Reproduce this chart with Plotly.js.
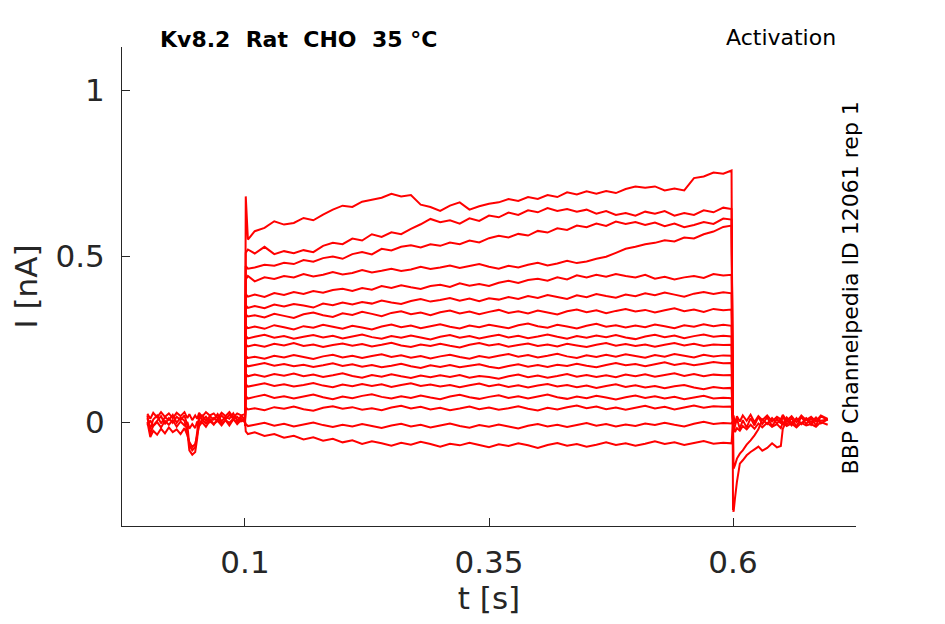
<!DOCTYPE html>
<html>
<head>
<meta charset="utf-8">
<script src="https://cdn.plot.ly/plotly-3.0.1.min.js"></script>
<style>
  html, body { margin: 0; padding: 0; background: #fff; }
  #chart { width: 945px; height: 624px; }
</style>
</head>
<body>
<div id="chart"></div>
<script>
const RED = "rgb(255,0,0)";
const WIDTH = 2;
const AXIS = "rgb(38,38,38)";

// holding potential before the step (t in s, I in nA)
const preT = [0.0, 0.003, 0.006, 0.01, 0.014, 0.018, 0.022, 0.026, 0.03, 0.034, 0.038, 0.041, 0.043, 0.046, 0.049,
  0.051, 0.053, 0.056, 0.06, 0.064, 0.068, 0.072, 0.076, 0.08, 0.084, 0.088, 0.092, 0.096, 0.1];
const pre1 = [0.012, -0.02, 0.008, 0.02, -0.004, 0.015, 0.006, 0.022, -0.002, 0.014, 0.004, -0.03, -0.085, -0.098, -0.09,
  -0.05, 0.01, 0.02, 0.004, 0.018, 0.008, 0.024, 0.002, 0.016, 0.01, 0.026, 0.004, 0.018, 0.01];
const pre2 = [0.02, -0.035, -0.01, 0.004, 0.018, -0.006, 0.012, -0.002, 0.016, 0.006, 0.02, -0.01, -0.07, -0.085, -0.075,
  -0.03, 0.022, 0.006, 0.016, 0.0, 0.012, 0.004, 0.02, 0.008, 0.022, 0.01, 0.016, 0.002, 0.012];
const pre3 = [0.0, -0.045, -0.026, -0.038, -0.02, -0.034, -0.016, -0.03, -0.022, -0.036, -0.018, -0.04, -0.06, -0.075, -0.066,
  -0.04, -0.012, 0.0, -0.014, 0.004, -0.008, 0.01, -0.004, 0.006, -0.01, 0.008, -0.002, 0.012, 0.002];
const pre4 = [0.025, 0.01, 0.028, 0.014, 0.03, 0.016, 0.026, 0.012, 0.028, 0.018, 0.03, 0.012, 0.024, 0.006, 0.02,
  0.01, 0.028, 0.016, 0.03, 0.02, 0.026, 0.012, 0.028, 0.018, 0.03, 0.014, 0.026, 0.02, 0.024];
const pre5 = [-0.01, 0.005, -0.012, 0.0, -0.016, 0.004, -0.008, 0.006, -0.014, 0.002, -0.01, 0.0, -0.02, -0.006, -0.018,
  0.002, -0.008, 0.008, -0.004, 0.01, -0.006, 0.004, -0.01, 0.006, -0.002, 0.01, -0.006, 0.006, 0.0];

// voltage step, one array per sweep
const stepT = [0.1, 0.1008, 0.103,
  0.11, 0.12, 0.13, 0.14, 0.15, 0.16, 0.17, 0.18, 0.19, 0.2,
  0.21, 0.22, 0.23, 0.24, 0.25, 0.26, 0.27, 0.28, 0.29, 0.3,
  0.31, 0.32, 0.33, 0.34, 0.35, 0.36, 0.37, 0.38, 0.39, 0.4,
  0.41, 0.42, 0.43, 0.44, 0.45, 0.46, 0.47, 0.48, 0.49, 0.5,
  0.51, 0.52, 0.53, 0.54, 0.55, 0.56, 0.57, 0.58, 0.59,
  0.5985, 0.6];
const sweep01 = [0.0, 0.68, 0.55,
  0.575, 0.585, 0.605, 0.595, 0.6, 0.615, 0.608, 0.625, 0.64, 0.652,
  0.648, 0.664, 0.67, 0.676, 0.688, 0.68, 0.684, 0.655, 0.648, 0.636,
  0.652, 0.662, 0.64, 0.65, 0.658, 0.662, 0.672, 0.666, 0.678, 0.672,
  0.684, 0.678, 0.692, 0.686, 0.695, 0.688, 0.696, 0.69, 0.702, 0.71,
  0.706, 0.71, 0.698, 0.704, 0.698, 0.735, 0.74, 0.752, 0.748,
  0.758, -0.265];
const sweep02 = [0.008, 0.51, 0.52,
  0.508, 0.528, 0.506, 0.515, 0.509, 0.518, 0.512, 0.531, 0.54, 0.536,
  0.553, 0.547, 0.566, 0.558, 0.572, 0.566, 0.582, 0.596, 0.612, 0.602,
  0.608, 0.598, 0.614, 0.606, 0.622, 0.617, 0.631, 0.624, 0.638, 0.632,
  0.645, 0.636, 0.642, 0.634, 0.64, 0.628, 0.636, 0.624, 0.63, 0.622,
  0.634, 0.628, 0.636, 0.622, 0.63, 0.624, 0.638, 0.632, 0.646,
  0.642, 0.01];
const sweep03 = [0.005, 0.47, 0.462,
  0.466, 0.474, 0.471, 0.48, 0.476, 0.488, 0.483, 0.494, 0.499, 0.492,
  0.506, 0.512, 0.505, 0.522, 0.517, 0.528, 0.533, 0.526, 0.536, 0.531,
  0.541, 0.536, 0.547, 0.541, 0.554, 0.561, 0.556, 0.567, 0.562, 0.576,
  0.571, 0.584, 0.579, 0.592, 0.587, 0.598, 0.591, 0.604, 0.597, 0.603,
  0.594, 0.601, 0.59, 0.598, 0.587, 0.594, 0.603, 0.597, 0.613,
  0.61, 0.0];
const sweep04 = [0.002, 0.43, 0.44,
  0.424, 0.436, 0.431, 0.44, 0.436, 0.446, 0.439, 0.444, 0.452, 0.445,
  0.449, 0.458, 0.451, 0.456, 0.462, 0.455, 0.46, 0.468, 0.461, 0.466,
  0.472, 0.464, 0.47, 0.476, 0.468, 0.462, 0.471, 0.466, 0.474, 0.48,
  0.472, 0.478, 0.486, 0.479, 0.484, 0.492, 0.498, 0.51, 0.522, 0.528,
  0.536, 0.54, 0.548, 0.544, 0.556, 0.553, 0.566, 0.574, 0.588,
  0.592, 0.004];
const sweep05 = [-0.004, 0.385, 0.378,
  0.384, 0.377, 0.389, 0.383, 0.392, 0.386, 0.395, 0.39, 0.398, 0.402,
  0.395, 0.404, 0.399, 0.41, 0.404, 0.412, 0.406, 0.401, 0.41, 0.414,
  0.407, 0.418, 0.411, 0.416, 0.41, 0.42, 0.426, 0.419, 0.428, 0.432,
  0.426, 0.436, 0.43, 0.442, 0.436, 0.444, 0.438, 0.446, 0.44, 0.436,
  0.444, 0.432, 0.438, 0.43, 0.436, 0.44, 0.434, 0.446, 0.442,
  0.444, -0.002];
const sweep06 = [0.01, 0.352, 0.344,
  0.35, 0.343, 0.354, 0.348, 0.356, 0.351, 0.345, 0.357, 0.352, 0.36,
  0.354, 0.362, 0.357, 0.366, 0.36, 0.356, 0.365, 0.371, 0.363, 0.368,
  0.374, 0.366, 0.372, 0.364, 0.373, 0.369, 0.377, 0.371, 0.38, 0.374,
  0.383, 0.377, 0.371, 0.382, 0.376, 0.386, 0.38, 0.375, 0.384, 0.379,
  0.388, 0.382, 0.39, 0.384, 0.378, 0.387, 0.392, 0.386, 0.391,
  0.388, 0.006];
const sweep07 = [-0.006, 0.324, 0.318,
  0.322, 0.315, 0.326, 0.32, 0.314, 0.325, 0.33, 0.322, 0.317, 0.328,
  0.323, 0.332, 0.326, 0.319, 0.329, 0.334, 0.325, 0.33, 0.322, 0.331,
  0.336, 0.327, 0.333, 0.325, 0.332, 0.338, 0.329, 0.334, 0.327, 0.336,
  0.33, 0.324, 0.334, 0.339, 0.331, 0.337, 0.328, 0.335, 0.341, 0.333,
  0.338, 0.33, 0.337, 0.343, 0.334, 0.339, 0.332, 0.341, 0.337,
  0.339, -0.004];
const sweep08 = [0.012, 0.29, 0.283,
  0.288, 0.281, 0.292, 0.286, 0.279, 0.289, 0.284, 0.293, 0.287, 0.281,
  0.29, 0.285, 0.279, 0.288, 0.294, 0.286, 0.291, 0.283, 0.289, 0.295,
  0.287, 0.282, 0.291, 0.286, 0.293, 0.288, 0.283, 0.292, 0.297, 0.289,
  0.284, 0.293, 0.288, 0.282, 0.29, 0.296, 0.287, 0.292, 0.285, 0.291,
  0.286, 0.294, 0.289, 0.283, 0.292, 0.287, 0.295, 0.289, 0.293,
  0.29, 0.008];
const sweep09 = [-0.01, 0.26, 0.252,
  0.257, 0.263, 0.254, 0.259, 0.251, 0.257, 0.262, 0.255, 0.26, 0.252,
  0.258, 0.264, 0.256, 0.251, 0.259, 0.254, 0.261, 0.255, 0.249, 0.257,
  0.262, 0.254, 0.259, 0.252, 0.258, 0.263, 0.255, 0.26, 0.253, 0.258,
  0.264, 0.257, 0.251, 0.259, 0.254, 0.261, 0.256, 0.262, 0.255, 0.25,
  0.258, 0.263, 0.256, 0.261, 0.253, 0.259, 0.264, 0.257, 0.26,
  0.258, -0.006];
const sweep10 = [0.004, 0.234, 0.228,
  0.233, 0.227, 0.236, 0.231, 0.238, 0.229, 0.234, 0.226, 0.232, 0.237,
  0.23, 0.235, 0.228, 0.233, 0.239, 0.231, 0.226, 0.234, 0.229, 0.236,
  0.23, 0.225, 0.233, 0.238, 0.231, 0.235, 0.227, 0.232, 0.237, 0.229,
  0.234, 0.228, 0.236, 0.231, 0.226, 0.233, 0.238, 0.23, 0.235, 0.229,
  0.234, 0.227, 0.233, 0.238, 0.231, 0.236, 0.229, 0.234, 0.232,
  0.233, 0.002];
const sweep11 = [-0.008, 0.2, 0.193,
  0.197, 0.191, 0.2, 0.195, 0.202, 0.196, 0.19, 0.198, 0.203, 0.195,
  0.2, 0.193, 0.199, 0.204, 0.196, 0.201, 0.194, 0.199, 0.192, 0.198,
  0.203, 0.196, 0.191, 0.199, 0.194, 0.2, 0.205, 0.197, 0.202, 0.195,
  0.2, 0.206, 0.198, 0.193, 0.201, 0.196, 0.203, 0.197, 0.204, 0.199,
  0.194, 0.202, 0.197, 0.205, 0.2, 0.195, 0.203, 0.198, 0.201,
  0.2, -0.004];
const sweep12 = [0.014, 0.174, 0.168,
  0.172, 0.178, 0.17, 0.175, 0.168, 0.173, 0.166, 0.171, 0.177, 0.169,
  0.174, 0.167, 0.172, 0.165, 0.17, 0.176, 0.168, 0.163, 0.171, 0.166,
  0.172, 0.165, 0.17, 0.174, 0.167, 0.162, 0.169, 0.174, 0.167, 0.172,
  0.166, 0.173, 0.169, 0.176, 0.17, 0.165, 0.172, 0.178, 0.171, 0.175,
  0.168, 0.174, 0.18, 0.172, 0.177, 0.171, 0.176, 0.181, 0.177,
  0.178, 0.01];
const sweep13 = [-0.002, 0.145, 0.138,
  0.143, 0.137, 0.145, 0.14, 0.146, 0.138, 0.143, 0.136, 0.141, 0.147,
  0.139, 0.134, 0.142, 0.137, 0.144, 0.138, 0.133, 0.14, 0.135, 0.141,
  0.136, 0.142, 0.134, 0.139, 0.136, 0.131, 0.138, 0.143, 0.135, 0.14,
  0.134, 0.139, 0.145, 0.137, 0.142, 0.136, 0.141, 0.135, 0.143, 0.138,
  0.144, 0.137, 0.142, 0.147, 0.139, 0.145, 0.138, 0.143, 0.141,
  0.142, -0.008];
const sweep14 = [0.006, 0.114, 0.107,
  0.111, 0.117, 0.109, 0.114, 0.107, 0.112, 0.118, 0.11, 0.105, 0.113,
  0.108, 0.115, 0.109, 0.114, 0.106, 0.112, 0.117, 0.109, 0.113, 0.107,
  0.112, 0.105, 0.111, 0.116, 0.108, 0.113, 0.106, 0.111, 0.104, 0.11,
  0.115, 0.107, 0.112, 0.105, 0.11, 0.103, 0.109, 0.114, 0.106, 0.111,
  0.104, 0.109, 0.102, 0.108, 0.112, 0.104, 0.099, 0.106, 0.102,
  0.103, 0.004];
const sweep15 = [-0.012, 0.078, 0.071,
  0.076, 0.082, 0.073, 0.078, 0.071, 0.077, 0.083, 0.075, 0.069, 0.077,
  0.072, 0.079, 0.084, 0.076, 0.071, 0.078, 0.073, 0.08, 0.074, 0.069,
  0.077, 0.082, 0.075, 0.07, 0.076, 0.081, 0.073, 0.078, 0.071, 0.077,
  0.083, 0.075, 0.07, 0.077, 0.072, 0.079, 0.074, 0.068, 0.075, 0.08,
  0.073, 0.078, 0.071, 0.076, 0.069, 0.074, 0.079, 0.071, 0.073,
  0.072, -0.006];
const sweep16 = [0.008, 0.044, 0.038,
  0.042, 0.036, 0.045, 0.04, 0.047, 0.039, 0.034, 0.043, 0.048, 0.04,
  0.045, 0.037, 0.042, 0.036, 0.044, 0.049, 0.041, 0.046, 0.038, 0.043,
  0.036, 0.041, 0.047, 0.039, 0.044, 0.037, 0.042, 0.048, 0.04, 0.035,
  0.043, 0.038, 0.045, 0.05, 0.042, 0.047, 0.039, 0.044, 0.037, 0.043,
  0.049, 0.041, 0.046, 0.038, 0.044, 0.05, 0.043, 0.048, 0.046,
  0.047, 0.002];
const sweep17 = [0.0, -0.006, -0.012,
  -0.008, -0.002, -0.011, -0.005, -0.013, -0.007, -0.001, -0.009, -0.015, -0.008,
  -0.013, -0.006, -0.012, -0.018, -0.01, -0.005, -0.013, -0.008, -0.016, -0.01,
  -0.004, -0.012, -0.017, -0.009, -0.014, -0.007, -0.013, -0.019, -0.011, -0.006,
  -0.013, -0.008, -0.015, -0.009, -0.003, -0.011, -0.006, -0.013, -0.007, -0.012,
  -0.004, -0.009, -0.002, -0.008, -0.013, -0.005, 0.001, -0.006, -0.003,
  -0.004, 0.004];
const sweep18 = [0.004, -0.028, -0.036,
  -0.031, -0.042, -0.036, -0.047, -0.041, -0.052, -0.046, -0.056, -0.05, -0.061,
  -0.055, -0.066, -0.058, -0.064, -0.071, -0.062, -0.068, -0.059, -0.066, -0.074,
  -0.065, -0.07, -0.062, -0.069, -0.076, -0.067, -0.072, -0.064, -0.07, -0.078,
  -0.069, -0.063, -0.071, -0.066, -0.074, -0.068, -0.061, -0.069, -0.064, -0.071,
  -0.065, -0.058, -0.066, -0.061, -0.069, -0.063, -0.057, -0.065, -0.062,
  -0.064, -0.002];

// tail currents after the step
const postT = [0.6, 0.6006, 0.602, 0.604, 0.607, 0.61, 0.614, 0.618, 0.622, 0.626, 0.63, 0.635, 0.64,
  0.645, 0.649, 0.651, 0.655, 0.66, 0.665, 0.67, 0.675, 0.68, 0.685, 0.69, 0.697];
const post1 = [-0.265, -0.27, -0.23, -0.18, -0.125, -0.115, -0.1, -0.09, -0.082, -0.074, -0.086, -0.078, -0.064,
  -0.076, -0.072, -0.02, 0.006, -0.01, 0.012, -0.006, 0.01, -0.008, 0.012, 0.004, 0.008];
const post2 = [0.0, -0.14, -0.13, -0.11, -0.095, -0.085, -0.068, -0.055, -0.04, -0.022, 0.008, -0.006, 0.012,
  -0.004, 0.01, -0.008, 0.014, -0.002, 0.01, -0.006, 0.012, 0.0, 0.014, -0.004, 0.008];
const post3 = [0.0, -0.03, -0.012, 0.01, -0.02, 0.006, -0.016, 0.012, -0.01, 0.016, -0.006, 0.014, -0.012,
  0.01, -0.004, 0.018, -0.008, 0.012, -0.014, 0.016, -0.006, 0.012, -0.01, 0.018, 0.006];
const post4 = [0.0, 0.02, -0.006, 0.018, 0.002, 0.02, 0.004, 0.022, 0.0, 0.018, 0.006, 0.02, 0.002,
  0.016, 0.008, 0.022, 0.004, 0.018, 0.0, 0.02, 0.006, 0.016, 0.002, 0.02, 0.01];
const post5 = [0.0, -0.01, -0.03, -0.018, -0.026, -0.012, -0.022, -0.008, -0.02, -0.004, -0.016, -0.002, -0.014,
  -0.006, -0.018, 0.0, -0.012, -0.004, -0.016, -0.002, -0.01, -0.006, -0.014, 0.0, -0.008];

const preSweeps = [pre1, pre2, pre3, pre4, pre5];
const stepSweeps = [sweep01, sweep02, sweep03, sweep04, sweep05, sweep06, sweep07, sweep08, sweep09,
  sweep10, sweep11, sweep12, sweep13, sweep14, sweep15, sweep16, sweep17, sweep18];
const postSweeps = [post1, post2, post3, post4, post5];

const xTicks = [0.1, 0.35, 0.6];
const xTickText = ["0.1", "0.35", "0.6"];
const yTicks = [0, 0.5, 1];
const yTickText = ["0", "0.5", "1"];

function line(x, y) {
	return {
		type: "scatter",
		mode: "lines",
		x: x,
		y: y,
		line: { color: RED, width: WIDTH, simplify: false },
		hoverinfo: "skip",
		showlegend: false,
	};
}

var data = [];
for (let y of preSweeps) data.push(line(preT, y));
for (let y of stepSweeps) data.push(line(stepT, y));
for (let y of postSweeps) data.push(line(postT, y));

const tickFont = { family: "DejaVu Sans", size: 31, color: AXIS };
const sp = "\u00a0\u00a0";

var layout = {
	width: 945,
	height: 624,
	margin: { l: 122, r: 89, t: 47, b: 98 },
	paper_bgcolor: "#fff",
	plot_bgcolor: "#fff",
	font: { family: "DejaVu Sans", color: AXIS },
	showlegend: false,
	xaxis: {
		range: [-0.026, 0.726],
		tickvals: xTicks,
		ticktext: xTickText,
		ticks: "inside",
		ticklen: 8,
		tickcolor: AXIS,
		tickwidth: 1,
		showline: true,
		linecolor: AXIS,
		linewidth: 1,
		showgrid: false,
		zeroline: false,
		tickfont: tickFont,
		ticklabelstandoff: 9,
		title: { text: "t [s]", font: tickFont, standoff: 5 },
	},
	yaxis: {
		range: [-0.313, 1.13],
		tickvals: yTicks,
		ticktext: yTickText,
		ticks: "inside",
		ticklen: 8,
		tickcolor: AXIS,
		tickwidth: 1,
		showline: true,
		linecolor: AXIS,
		linewidth: 1,
		showgrid: false,
		zeroline: false,
		tickfont: tickFont,
		ticklabelstandoff: 10,
		title: { text: "I [nA]", font: tickFont, standoff: 8 },
	},
	annotations: [
		{
			text: "<b>Kv8.2" + sp + "Rat" + sp + "CHO" + sp + "35 °C</b>",
			xref: "paper", yref: "paper",
			x: 0.0495, y: 1.0155,
			xanchor: "left", yanchor: "middle",
			showarrow: false,
			font: { family: "DejaVu Sans", size: 22, color: "#000" },
		},
		{
			text: "Activation",
			xref: "paper", yref: "paper",
			x: 0.976, y: 1.0188,
			xanchor: "right", yanchor: "middle",
			showarrow: false,
			font: { family: "DejaVu Sans", size: 22, color: "#000" },
		},
		{
			text: "BBP Channelpedia ID 12061 rep 1",
			xref: "paper", yref: "paper",
			x: 0.9918, y: 0.498,
			xanchor: "center", yanchor: "middle",
			textangle: -90,
			showarrow: false,
			font: { family: "DejaVu Sans", size: 22, color: "#000" },
		},
	],
};

Plotly.newPlot("chart", data, layout, { staticPlot: true });
</script>
</body>
</html>
